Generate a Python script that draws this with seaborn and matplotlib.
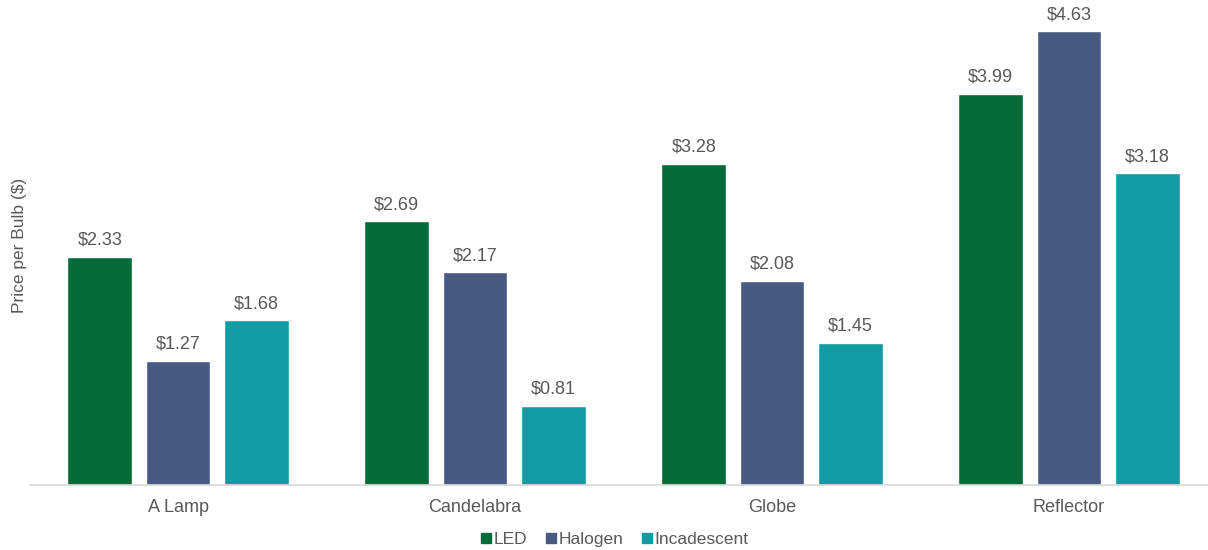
import matplotlib
matplotlib.use("Agg")
import matplotlib.pyplot as plt
import seaborn as sns
import pandas as pd
from matplotlib.lines import Line2D

categories = ["A Lamp", "Candelabra", "Globe", "Reflector"]
series = ["LED", "Halogen", "Incadescent"]
led = [2.33, 2.69, 3.28, 3.99]
halogen = [1.27, 2.17, 2.08, 4.63]
incandescent = [1.68, 0.81, 1.45, 3.18]
colors = ["#046B38", "#485A84", "#119CA4"]

rows = []
for vals, s in zip([led, halogen, incandescent], series):
    for c, v in zip(categories, vals):
        rows.append({"Type": c, "Series": s, "Price": v})
df = pd.DataFrame(rows)

sns.set_theme(style="white")
plt.rcParams['font.family'] = ['Liberation Sans', 'DejaVu Sans']
txt = "#595959"

fig = plt.figure(figsize=(12.08, 5.5), dpi=100)
ax = fig.add_axes([29.5/1208, 1-485/550, (1208-29.5)/1208, 480/550])
sns.barplot(data=df, x="Type", y="Price", hue="Series", palette=colors,
            width=0.79, gap=0.17, ax=ax, legend=False, saturation=1)

for cont in ax.containers:
    ax.bar_label(cont, labels=[f"${v:.2f}" for v in cont.datavalues],
                 padding=6, fontsize=13, color=txt)

ax.set_xlim(-0.5, 3.468)
ax.set_ylim(0, 4.9)
ax.set_yticks([])
ax.set_xlabel("")
ax.set_ylabel("Price per Bulb ($)", fontsize=12.5, color=txt, labelpad=2)
ax.tick_params(axis="x", length=0, labelsize=13, colors=txt, pad=10)
for s in ["top", "right", "left"]:
    ax.spines[s].set_visible(False)
ax.spines["bottom"].set_color("#D9D9D9")
ax.spines["bottom"].set_linewidth(1.2)

handles = [Line2D([], [], marker="s", linestyle="", markersize=6.5,
                  markerfacecolor=c, markeredgecolor=c) for c in colors]
fig.legend(handles, series, loc="center", bbox_to_anchor=(614/1208, 1-539/550),
           ncol=3, frameon=False, fontsize=12.5, labelcolor=txt,
           handletextpad=0.1, columnspacing=1.0, handlelength=0.7)

fig.savefig("out.png", dpi=100)
